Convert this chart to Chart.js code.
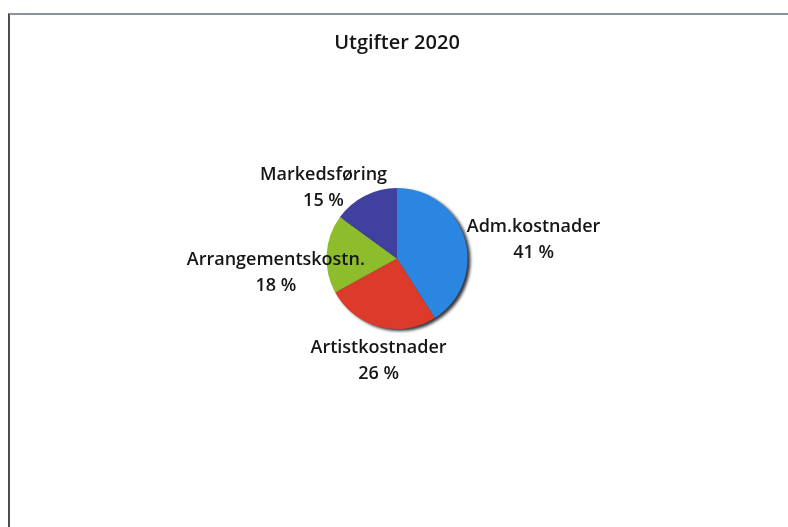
<!DOCTYPE html>
<html>
<head>
<meta charset="utf-8">
<script src="https://cdn.jsdelivr.net/npm/chart.js@4"></script>
<style>
  html, body { margin: 0; padding: 0; background: #fff; overflow: hidden; }
  #frame {
    position: absolute; left: 8px; top: 13px;
    width: 800px; height: 530px;
    border-left: 2px solid #4a4d55;
    border-top: 2px solid #8d939c;
  }
</style>
</head>
<body>
<div id="frame">
  <canvas id="utgifter" width="780" height="512"></canvas>
</div>
<script>
// Kategorier og andeler (prosent)
const kategorier = ["Adm.kostnader", "Artistkostnader", "Arrangementskostn.", "Markedsføring"];
const andeler = [41, 26, 18, 15];

// Farger: lys midt og mørkere kant for skyggelagt effekt
const fargeLys = ['#2a86e0', '#dc3b2c', '#8dbd2c', '#40409e'];
const fargeMork = ['#1458b8', '#b02018', '#6a9418', '#28287a'];

// Radiell gradient per sektor
function sektorFarge(context) {
    const chart = context.chart;
    const arc = chart.getDatasetMeta(0).data[context.dataIndex];
    if (!arc || !arc.outerRadius) return fargeLys[context.dataIndex];
    const g = chart.ctx.createRadialGradient(arc.x - 15, arc.y - 15, 5, arc.x, arc.y, arc.outerRadius);
    g.addColorStop(0, fargeLys[context.dataIndex]);
    g.addColorStop(0.75, fargeLys[context.dataIndex]);
    g.addColorStop(1, fargeMork[context.dataIndex]);
    return g;
}

// Skygge bak kaken
const skyggePlugin = {
    id: 'skygge',
    beforeDatasetsDraw(chart) {
        const arc = chart.getDatasetMeta(0).data[0];
        if (!arc) return;
        const ctx = chart.ctx;
        ctx.save();
        ctx.fillStyle = 'rgba(20,20,30,0.85)';
        ctx.filter = 'blur(1.5px)';
        ctx.beginPath();
        ctx.arc(arc.x + 3, arc.y + 2, arc.outerRadius, 0, Math.PI * 2);
        ctx.fill();
        ctx.restore();
    }
};

// Etiketter utenfor kaken (navn + prosent), med små justeringer som i Excel
const justering = [[-3, 11], [18, 1], [46, 21], [-9, 22]];
const etikettPlugin = {
    id: 'etiketter',
    afterDatasetsDraw(chart) {
        const ctx = chart.ctx;
        const meta = chart.getDatasetMeta(0);
        ctx.save();
        ctx.font = "600 18px 'Open Sans', sans-serif";
        ctx.fillStyle = '#161616';
        ctx.textAlign = 'center';
        ctx.textBaseline = 'middle';
        meta.data.forEach((arc, i) => {
            const mid = (arc.startAngle + arc.endAngle) / 2;
            const r = arc.outerRadius + 8;
            const cx = Math.cos(mid), cy = Math.sin(mid);
            const px = arc.x + cx * r;
            const py = arc.y + cy * r;
            const linjer = [kategorier[i], andeler[i] + ' %'];
            const lh = 26;
            const bredde = Math.max(...linjer.map(t => ctx.measureText(t).width));
            const bx = px + cx * bredde / 2 + justering[i][0];
            const by = py + cy * lh + justering[i][1];
            ctx.fillText(linjer[0], bx, by - lh / 2);
            ctx.fillText(linjer[1], bx, by + lh / 2);
        });
        ctx.restore();
    }
};

new Chart(document.getElementById('utgifter'), {
    type: 'pie',
    data: {
        labels: kategorier,
        datasets: [{
            data: andeler,
            backgroundColor: sektorFarge,
            borderWidth: 0
        }]
    },
    options: {
        responsive: false,
        animation: false,
        layout: {
            padding: { top: 0, bottom: 198, left: 0, right: 6 }
        },
        plugins: {
            legend: { display: false },
            tooltip: { enabled: false },
            title: {
                display: true,
                text: 'Utgifter 2020',
                color: '#161616',
                font: { size: 20, family: "'Open Sans', sans-serif", weight: '600' },
                padding: { top: 16, bottom: 133 }
            }
        }
    },
    plugins: [skyggePlugin, etikettPlugin]
});
</script>
</body>
</html>
